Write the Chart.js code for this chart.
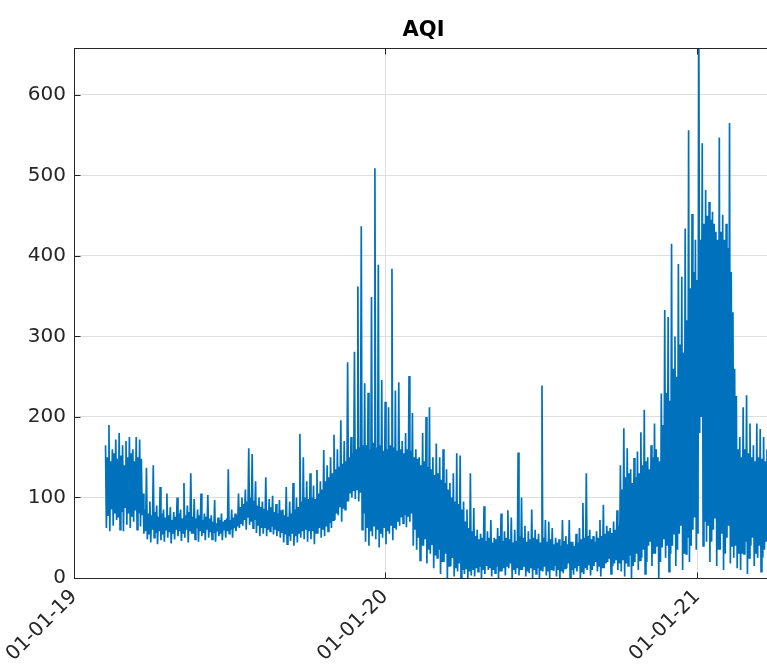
<!DOCTYPE html>
<html><head><meta charset="utf-8">
<script src="https://cdn.jsdelivr.net/npm/chart.js@4"></script>
<style>
html,body{margin:0;padding:0;overflow:hidden;background:#fff;width:767px;height:668px}
#wrap{width:847px;height:668px}
</style>
</head><body><div id="wrap"><canvas id="c" width="847" height="668"></canvas></div>
<script>
const chartTitle = 'AQI';
const xTickDays = [0, 365, 731];               // days since 2019-01-01
const xTickLabels = ['01-01-19', '01-01-20', '01-01-21'];
const yTicks = [0, 100, 200, 300, 400, 500, 600];
const firstDay = 37;    // first sample: 2019-02-07
const stepDays = 4;     // each 4-day bin: peak, trough, second peak, second trough (one per day)

// day 0 of each bin: peak reading
const highs = [
 165,190,160,172,180,165,170,175,160,175,172,
 105,137,95,140,90,113,85,105,88,82,100,85,118,90,130,98,85,105,80,103,
 78,97,75,80,72,135,85,80,105,100,110,161,154,120,100,
 95,125,98,102,92,97,85,113,95,118,100,179,150,120,
 130,115,134,120,159,140,150,178,160,196,170,268,175,281,362,437,
 242,230,349,509,389,246,219,212,384,233,243,170,180,251,205,
 160,150,180,200,212,150,167,150,160,135,118,130,155,152,95,85,130,
 87,60,55,89,58,72,50,62,80,58,84,75,60,156,100,65,58,85,
 60,55,239,72,70,62,50,48,72,52,72,45,55,62,93,130,60,52,58,72,91,65,62,70,84,
 140,186,161,135,149,157,181,209,150,165,192,150,229,
 333,324,415,300,390,374,434,556,452,420,680,540,482,467,455,430,547,451,440,565,330,226,
 175,212,227,192,165,192,185,175,160,170
];
// day 1 of each bin: trough reading
const lows = [
 62,58,65,72,60,58,66,62,70,60,64,
 55,48,44,50,42,47,45,50,43,48,52,46,50,44,55,48,45,52,47,50,
 48,45,52,47,50,55,50,58,62,65,60,66,62,56,52,
 55,52,58,54,52,50,44,42,46,40,44,50,48,45,
 48,42,55,50,52,58,62,72,78,70,85,95,100,98,95,60,
 45,40,52,48,38,50,42,55,47,60,65,68,63,70,40,
 35,22,40,18,30,12,25,5,20,0,15,2,8,0,5,0,3,
 2,8,0,5,10,2,6,0,8,3,12,0,5,3,10,2,6,0,
 5,0,8,3,0,10,2,0,6,12,0,4,8,0,5,10,3,15,8,2,12,20,5,18,10,
 8,2,15,0,20,10,25,5,40,15,30,0,38,
 25,8,40,15,55,10,30,20,60,35,180,40,45,20,60,15,35,10,50,18,25,12,
 10,30,5,40,15,25,8,35,20,15
];
// day 2 of each bin: second (ordinary) peak
const bodyTops = [
 150,145,155,148,152,140,150,155,145,150,148,
 85,80,78,82,76,80,75,78,72,76,80,74,78,82,76,74,78,72,76,74,
 70,68,72,70,74,72,75,78,88,92,95,100,96,90,88,
 86,84,88,82,80,84,78,76,80,85,88,95,100,98,
 100,98,105,110,120,125,130,135,138,142,145,150,155,160,162,165,
 165,160,168,162,165,158,160,165,162,158,160,155,160,158,150,
 148,140,145,138,135,128,130,122,118,110,100,95,92,85,70,62,58,
 52,48,50,46,50,44,48,52,46,50,48,44,46,52,50,45,48,50,
 48,44,50,45,48,42,44,40,46,42,45,40,44,48,50,52,48,45,50,52,55,58,56,60,65,
 110,125,130,118,125,130,140,145,135,150,160,145,190,
 230,220,260,250,290,280,320,360,380,370,420,440,450,445,440,420,430,420,410,380,260,160,
 150,160,155,150,145,150,148,145,140,150
];
// day 3 of each bin: second (ordinary) trough
const bodyBottoms = [
 78,85,80,75,82,88,80,76,84,80,78,
 58,55,60,56,58,54,60,57,55,60,58,56,60,58,55,62,58,56,60,57,
 56,58,55,60,58,60,62,64,68,72,75,70,72,66,62,
 62,60,64,60,58,56,54,52,55,52,56,58,60,58,
 58,56,62,60,64,68,72,80,88,86,95,105,108,110,106,80,
 62,58,65,60,55,62,58,66,62,70,75,78,76,80,60,
 50,40,48,35,42,28,35,20,30,15,25,12,18,10,12,8,10,
 12,14,10,15,12,10,14,8,12,15,18,10,12,10,15,8,12,10,
 12,10,14,8,10,15,10,8,12,18,10,12,15,8,12,16,10,20,15,12,18,24,15,22,18,
 22,18,28,15,30,22,35,20,45,30,40,20,48,
 40,30,55,35,65,30,50,40,75,55,200,70,65,45,75,35,55,30,65,40,40,30,
 30,45,25,50,30,40,25,45,35,30
];

const points = [];
highs.forEach((h, i) => {
  const d = firstDay + i * stepDays;
  points.push({x: d, y: h});
  points.push({x: d + 1, y: lows[i]});
  points.push({x: d + 2, y: bodyTops[i]});
  points.push({x: d + 3, y: bodyBottoms[i]});
});

const AX = '#262626';
const BLUE = '#0072BD';
const FONT = 'DejaVu Sans';
const framePlugin = {
  id: 'frame',
  afterDraw(chart) {
    const {ctx, chartArea: {left, right, top, bottom}, scales: {x, y}} = chart;
    const L = Math.round(left) + 0.5, R = Math.round(right) + 0.5;
    const T = Math.round(top) + 0.5, B = Math.round(bottom) + 0.5;
    ctx.save();
    ctx.strokeStyle = AX; ctx.lineWidth = 1;
    ctx.beginPath();
    ctx.moveTo(L, T); ctx.lineTo(R, T);
    ctx.moveTo(L, T); ctx.lineTo(L, B);
    ctx.moveTo(L, B); ctx.lineTo(R, B);
    ctx.moveTo(R, T); ctx.lineTo(R, B);
    yTicks.forEach(v => {
      const py = Math.round(y.getPixelForValue(v)) + 0.5;
      ctx.moveTo(L, py); ctx.lineTo(L + 6, py);
    });
    xTickDays.forEach(v => {
      const px = Math.round(x.getPixelForValue(v)) + 0.5;
      ctx.moveTo(px, B); ctx.lineTo(px, B - 6);
      ctx.moveTo(px, T); ctx.lineTo(px, T + 6);
    });
    ctx.stroke();
    ctx.restore();
  }
};

new Chart(document.getElementById('c'), {
  type: 'line',
  data: {
    datasets: [
      {label: chartTitle, data: points, borderColor: BLUE, backgroundColor: BLUE,
       borderWidth: 1.7, pointRadius: 0, tension: 0, fill: false, borderJoinStyle: 'miter'}
    ]
  },
  options: {
    responsive: false,
    animation: false,
    devicePixelRatio: 1,
    layout: {padding: 0},
    plugins: {
      legend: {display: false},
      tooltip: {enabled: false},
      title: {
        display: true, text: chartTitle, color: '#000',
        font: {family: FONT, size: 21, weight: 'bold'},
        padding: {top: 18, bottom: 5}
      }
    },
    scales: {
      x: {
        type: 'linear', min: 0, max: 820,
        afterBuildTicks: s => { s.ticks = xTickDays.map(v => ({value: v})); },
        afterFit: s => { s.height = 90; },
        ticks: {
          autoSkip: false, maxRotation: 45, minRotation: 45, padding: 7,
          color: AX, font: {family: FONT, size: 20},
          callback: v => xTickLabels[xTickDays.indexOf(v)]
        },
        grid: {color: '#dedede', drawTicks: false},
        border: {display: true, color: AX}
      },
      y: {
        min: 0, max: 658,
        afterBuildTicks: s => { s.ticks = yTicks.map(v => ({value: v})); },
        afterFit: s => { s.width = 74; },
        ticks: {
          padding: 8, color: AX, font: {family: FONT, size: 20},
          callback: v => String(v)
        },
        grid: {color: '#dedede', drawTicks: false},
        border: {display: true, color: AX}
      },
      yRight: {
        position: 'right', min: 0, max: 658,
        afterFit: s => { s.width = 74; },
        ticks: {display: false},
        grid: {display: false, drawOnChartArea: false},
        border: {display: false}
      }
    }
  },
  plugins: [framePlugin]
});
</script>
</body></html>
